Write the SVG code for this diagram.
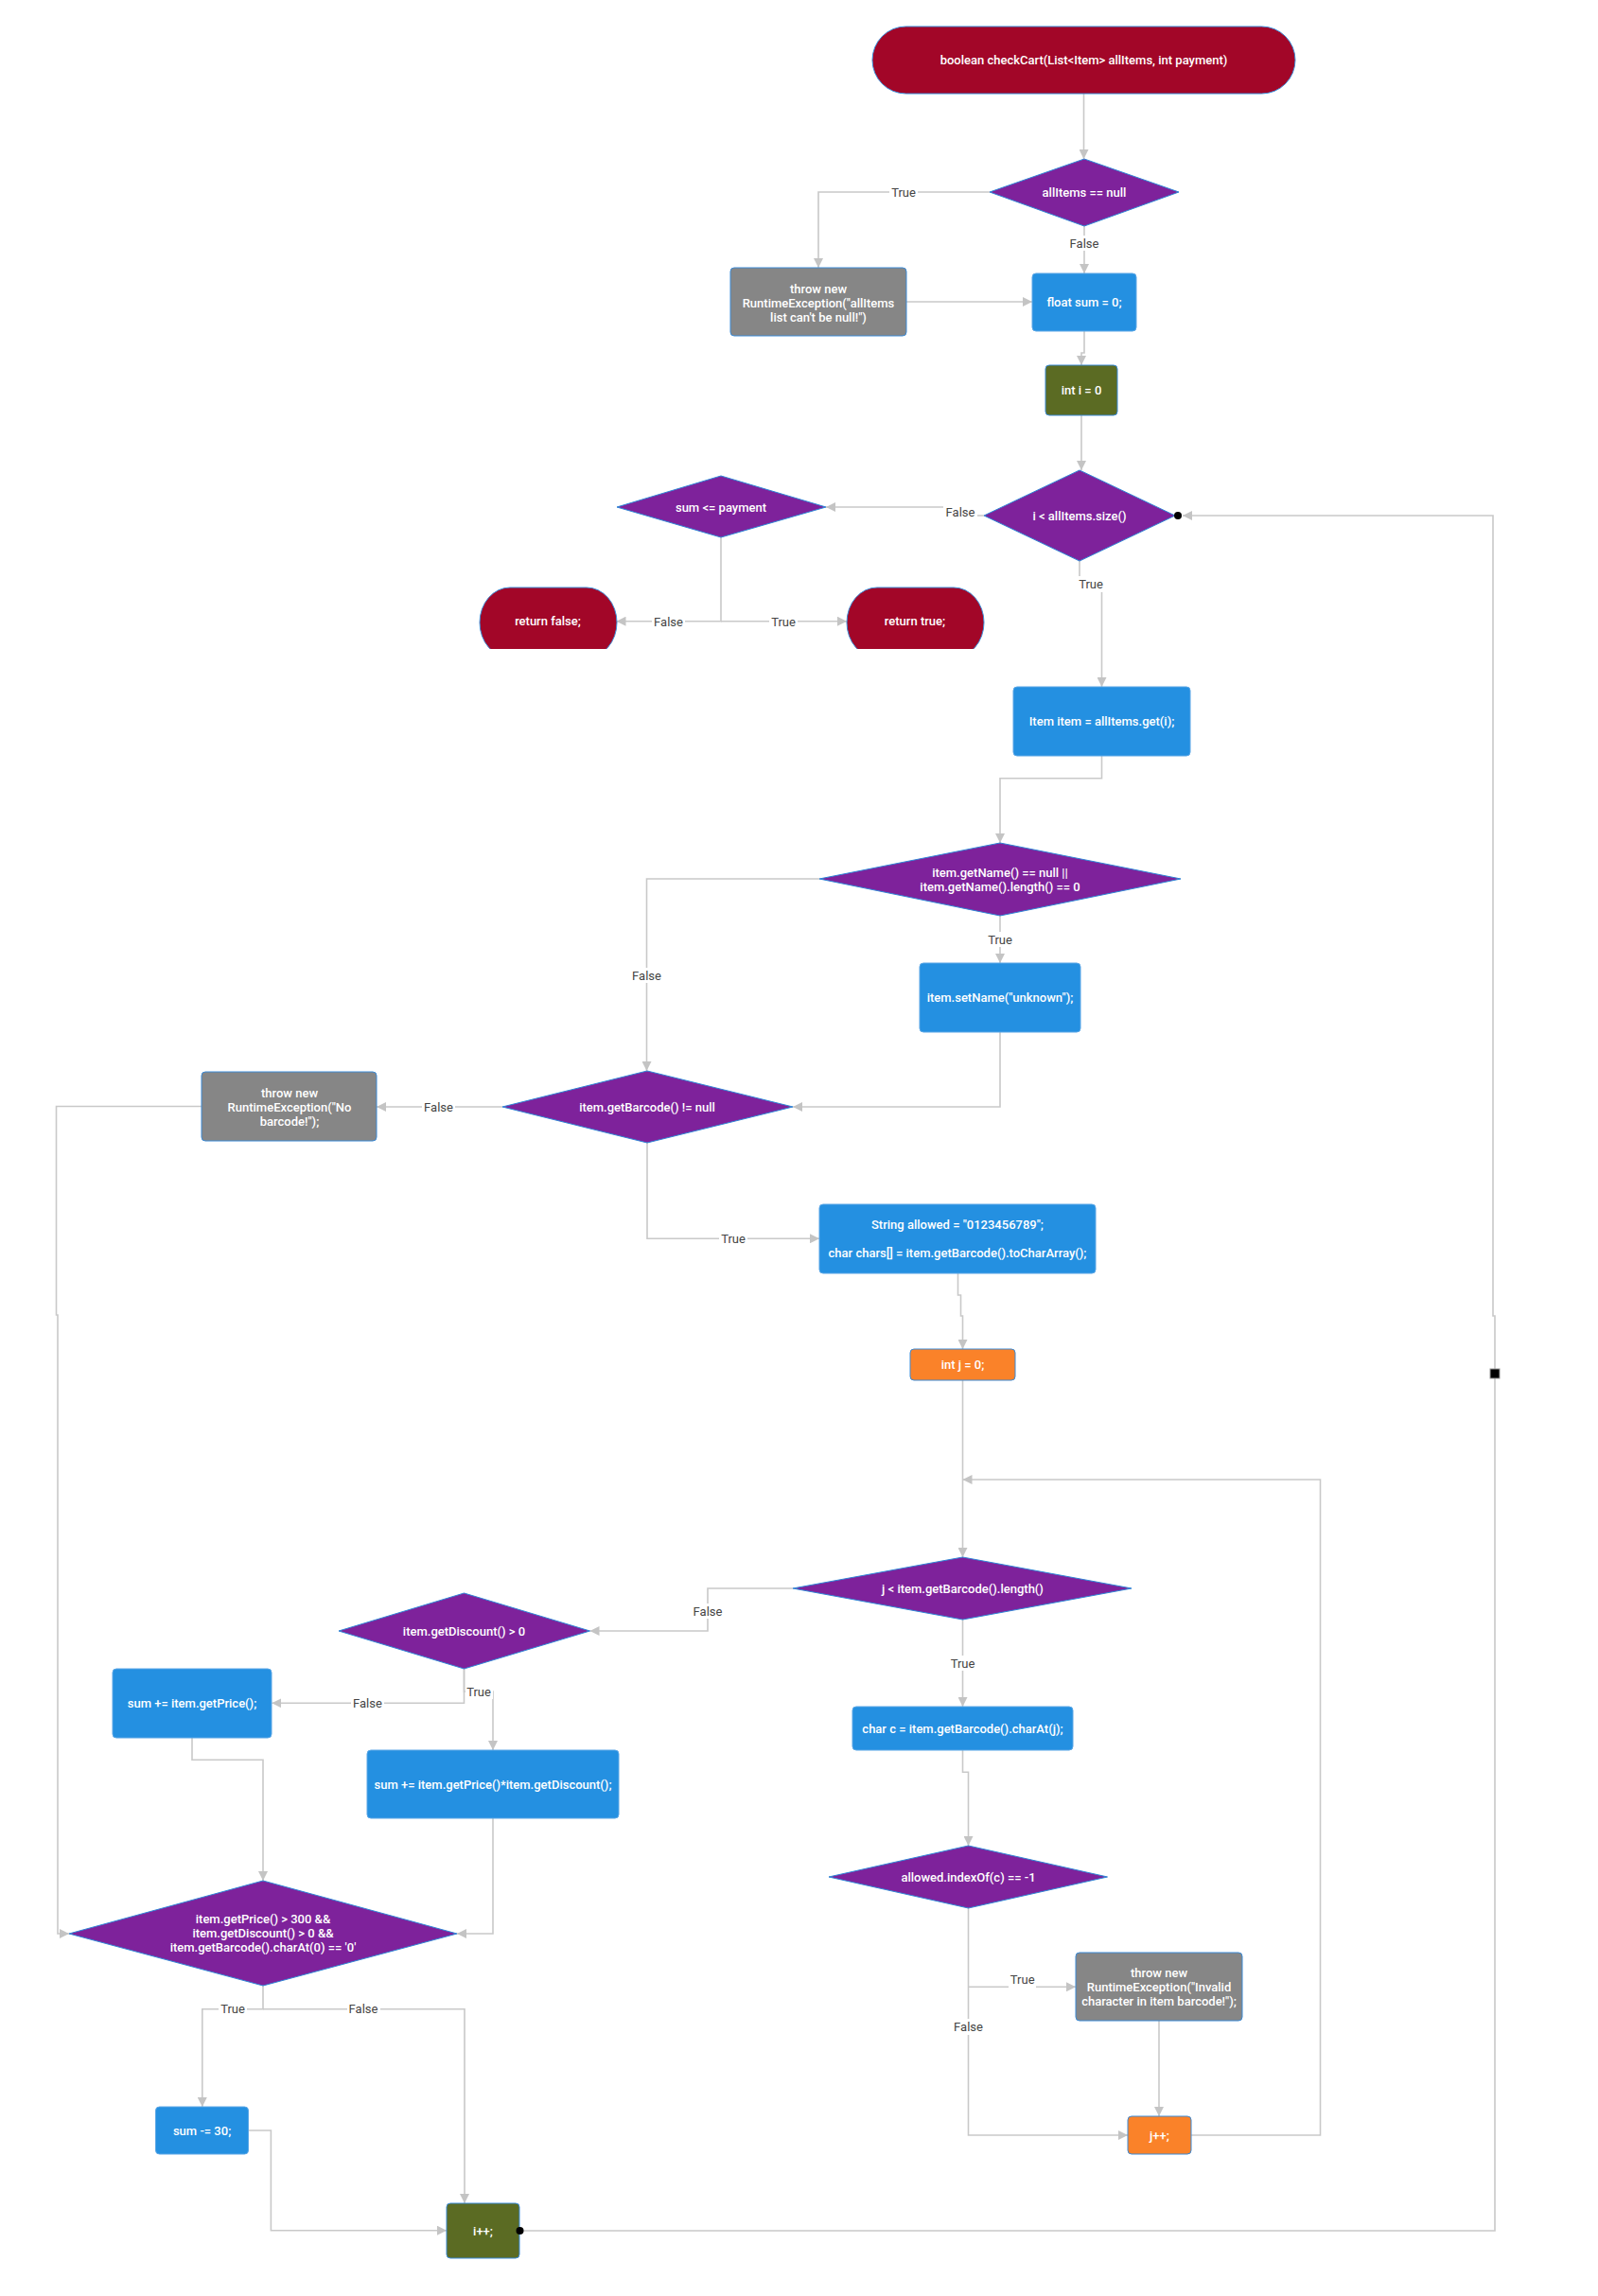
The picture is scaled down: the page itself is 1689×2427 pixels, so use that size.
<svg xmlns="http://www.w3.org/2000/svg" width="1689" height="2427" viewBox="0 0 1689 2427">
  <style>
    .conn { fill: none; stroke: #c9c9c9; stroke-width: 1.6; }
    .arr { marker-end: url(#arrow); }
    .lbl-bg { fill: #ffffff; }
    .lbl { font-family: Roboto, "Liberation Sans", Arial, sans-serif; font-size: 13px; fill: #444444; text-anchor: middle; dominant-baseline: central; }
    .txt { font-family: Roboto, "Liberation Sans", Arial, sans-serif; font-size: 13px; font-weight: 500; fill: #ffffff; text-anchor: middle; dominant-baseline: central; }
    .term { fill: #a20628; stroke: #3d8fd8; stroke-width: 1; }
    .dec { fill: #7e229b; stroke: #2f86d6; stroke-width: 1; }
    .proc { fill: #2490e1; stroke: #5aa6e6; stroke-width: 1; }
    .err { fill: #868686; stroke: #3a8ad6; stroke-width: 1; }
    .loop { fill: #5b6b23; stroke: #3a8ad6; stroke-width: 1; }
    .inc { fill: #fa8229; stroke: #3a8ad6; stroke-width: 1; }
  </style>
  <defs>
    <marker id="arrow" markerUnits="userSpaceOnUse" markerWidth="10" markerHeight="10" refX="10" refY="5" orient="auto">
      <path d="M0,0 L10,5 L0,10 z" fill="#c4c4c4"/>
    </marker>
    <clipPath id="cutBottom">
      <rect x="0" y="0" width="1689" height="686"/>
    </clipPath>
  </defs>

  <rect x="0" y="0" width="1689" height="2427" fill="#ffffff"/>

  <!-- connectors -->
  <g id="connectors">
    <path class="conn arr" d="M1145.5,99 V168"/>
    <path class="conn arr" d="M1046,203 H865 V283"/>
    <path class="conn arr" d="M1146,239 V289"/>
    <path class="conn arr" d="M958,319 H1091"/>
    <path class="conn arr" d="M1146,350 V373 H1143 V386"/>
    <path class="conn arr" d="M1143,439 V497"/>
    <path class="conn arr" d="M1040,545 H1027 V536 H873"/>
    <path class="conn arr" d="M762,568 V656.7 H651.5"/>
    <path class="conn arr" d="M762,656.7 H895"/>
    <path class="conn arr" d="M1141,593 V617 H1164.5 V726"/>
    <path class="conn arr" d="M1164.5,799 V822.7 H1057 V891"/>
    <path class="conn arr" d="M866,929 H683.5 V1132"/>
    <path class="conn arr" d="M1057,968 V1018"/>
    <path class="conn arr" d="M1057,1091 V1170 H838"/>
    <path class="conn arr" d="M531,1170 H398"/>
    <path class="conn arr" d="M213,1169.5 H59.5 V1390 H61 V2044 H73"/>
    <path class="conn arr" d="M684,1208 V1309.3 H866"/>
    <path class="conn arr" d="M1012.5,1346 V1369 H1015.5 V1391 H1017.5 V1426"/>
    <path class="conn arr" d="M1017.5,1459 V1646"/>
    <path class="conn arr" d="M1259,2257 H1395.5 V1564 H1017.5"/>
    <path class="conn arr" d="M838,1679 H748 V1724 H623.5"/>
    <path class="conn arr" d="M1017.5,1712 V1804"/>
    <path class="conn arr" d="M1017.5,1850 V1873.3 H1023.5 V1951"/>
    <path class="conn arr" d="M1023.5,2017 V2257 H1192"/>
    <path class="conn arr" d="M1023.5,2100.3 H1137"/>
    <path class="conn arr" d="M1225,2136 V2237"/>
    <path class="conn arr" d="M490.5,1764 V1800.3 H287.3"/>
    <path class="conn arr" d="M490.5,1764 V1788 H521 V1850"/>
    <path class="conn arr" d="M203,1837 V1860.3 H278 V1988"/>
    <path class="conn arr" d="M521,1922 V2044 H483"/>
    <path class="conn arr" d="M278,2099 V2123.7 H213.8 V2227"/>
    <path class="conn arr" d="M278,2123.7 H491 V2329"/>
    <path class="conn arr" d="M263,2252 H286.4 V2357.7 H472"/>
    <path class="conn arr" d="M549,2358 H1580 V1391 H1578 V545 H1250"/>
    <rect x="1575" y="1447" width="10" height="10" fill="#000000" stroke="#9a9a9a" stroke-width="1"/>

    <!-- branch labels -->
    <rect class="lbl-bg" x="940" y="195" width="30" height="16"/>
    <text class="lbl" x="955" y="203">True</text>
    <rect class="lbl-bg" x="1129" y="249" width="34" height="16"/>
    <text class="lbl" x="1146" y="257">False</text>
    <rect class="lbl-bg" x="997" y="532" width="36" height="17"/>
    <text class="lbl" x="1015" y="541">False</text>
    <rect class="lbl-bg" x="689" y="649" width="35" height="16"/>
    <text class="lbl" x="706.5" y="657">False</text>
    <rect class="lbl-bg" x="813" y="649" width="30" height="16"/>
    <text class="lbl" x="828" y="657">True</text>
    <rect class="lbl-bg" x="1138" y="609" width="30" height="17"/>
    <text class="lbl" x="1153" y="617.5">True</text>
    <rect class="lbl-bg" x="666" y="1023" width="35" height="16"/>
    <text class="lbl" x="683.5" y="1031">False</text>
    <rect class="lbl-bg" x="1042" y="985" width="30" height="16"/>
    <text class="lbl" x="1057" y="993.5">True</text>
    <rect class="lbl-bg" x="446" y="1162" width="35" height="16"/>
    <text class="lbl" x="463.5" y="1170">False</text>
    <rect class="lbl-bg" x="760" y="1301" width="30" height="16"/>
    <text class="lbl" x="775" y="1309.3">True</text>
    <rect class="lbl-bg" x="731" y="1695" width="35" height="16"/>
    <text class="lbl" x="748" y="1703">False</text>
    <rect class="lbl-bg" x="1002" y="1750" width="30" height="16"/>
    <text class="lbl" x="1017.5" y="1758.3">True</text>
    <rect class="lbl-bg" x="1006" y="2134" width="35" height="17"/>
    <text class="lbl" x="1023.5" y="2142.3">False</text>
    <rect class="lbl-bg" x="1066" y="2084" width="29" height="17.5"/>
    <text class="lbl" x="1080.7" y="2092.3">True</text>
    <rect class="lbl-bg" x="371" y="1792" width="35" height="16"/>
    <text class="lbl" x="388.4" y="1800">False</text>
    <rect class="lbl-bg" x="492" y="1780" width="29" height="16"/>
    <text class="lbl" x="506" y="1788.3">True</text>
    <rect class="lbl-bg" x="231" y="2116" width="30" height="16"/>
    <text class="lbl" x="246" y="2123.7">True</text>
    <rect class="lbl-bg" x="367" y="2116" width="35" height="16"/>
    <text class="lbl" x="384" y="2123.7">False</text>
  </g>

  <!-- nodes -->
  <g id="start">
    <rect class="term" x="922" y="28" width="447" height="71" rx="35.5"/>
    <text class="txt" x="1145.5" y="63.5">boolean checkCart(List&lt;Item&gt; allItems, int payment)</text>
  </g>
  <g id="check-null">
    <polygon class="dec" points="1146,168 1246,203 1146,239 1046,203"/>
    <text class="txt" x="1146" y="203">allItems == null</text>
  </g>
  <g id="throw-null">
    <rect class="err" x="772" y="283" width="186" height="72" rx="4"/>
    <text class="txt" x="865" y="305">throw new</text>
    <text class="txt" x="865" y="320">RuntimeException("allItems</text>
    <text class="txt" x="865" y="335">list can't be null!")</text>
  </g>
  <g id="init-sum">
    <rect class="proc" x="1091" y="289" width="110" height="61" rx="4"/>
    <text class="txt" x="1146" y="319.5">float sum = 0;</text>
  </g>
  <g id="init-i">
    <rect class="loop" x="1105" y="386" width="76" height="53" rx="4"/>
    <text class="txt" x="1143" y="412.5">int i = 0</text>
  </g>
  <g id="loop-i">
    <polygon class="dec" points="1141,497 1242,545 1141,593 1040,545"/>
    <text class="txt" x="1141" y="545">i &lt; allItems.size()</text>
    <circle cx="1245" cy="545" r="4" fill="#000000"/>
  </g>
  <g id="check-payment">
    <polygon class="dec" points="762,503 873,536 762,568 652,536"/>
    <text class="txt" x="762" y="536">sum &lt;= payment</text>
  </g>
  <g id="return-false" clip-path="url(#cutBottom)">
    <rect class="term" x="507" y="621" width="145" height="74" rx="32" ry="37"/>
    <text class="txt" x="579" y="656.7">return false;</text>
  </g>
  <g id="return-true" clip-path="url(#cutBottom)">
    <rect class="term" x="895" y="621" width="145" height="74" rx="32" ry="37"/>
    <text class="txt" x="967" y="656.7">return true;</text>
  </g>
  <g id="get-item">
    <rect class="proc" x="1071" y="726" width="187" height="73" rx="4"/>
    <text class="txt" x="1164.5" y="762.5">Item item = allItems.get(i);</text>
  </g>
  <g id="check-name">
    <polygon class="dec" points="1057,891 1248,929 1057,968 866,929"/>
    <text class="txt" x="1057" y="922">item.getName() == null ||</text>
    <text class="txt" x="1057" y="937">item.getName().length() == 0</text>
  </g>
  <g id="set-name">
    <rect class="proc" x="972" y="1018" width="170" height="73" rx="4"/>
    <text class="txt" x="1057" y="1054.5">item.setName("unknown");</text>
  </g>
  <g id="check-barcode">
    <polygon class="dec" points="684,1132 838,1170 684,1208 531,1170"/>
    <text class="txt" x="684" y="1170.5">item.getBarcode() != null</text>
  </g>
  <g id="throw-barcode">
    <rect class="err" x="213" y="1133" width="185" height="73" rx="4"/>
    <text class="txt" x="306" y="1155">throw new</text>
    <text class="txt" x="306" y="1170">RuntimeException("No</text>
    <text class="txt" x="306" y="1185">barcode!");</text>
  </g>
  <g id="init-chars">
    <rect class="proc" x="866" y="1273" width="292" height="73" rx="4"/>
    <text class="txt" x="1012" y="1294.3">String allowed = "0123456789";</text>
    <text class="txt" x="1012" y="1324.3">char chars[] = item.getBarcode().toCharArray();</text>
  </g>
  <g id="init-j">
    <rect class="inc" x="962" y="1426" width="111" height="33" rx="4"/>
    <text class="txt" x="1017.5" y="1442.5">int j = 0;</text>
  </g>
  <g id="loop-j">
    <polygon class="dec" points="1017.5,1646 1196,1679 1017.5,1712 838,1679"/>
    <text class="txt" x="1017.5" y="1679">j &lt; item.getBarcode().length()</text>
  </g>
  <g id="get-char">
    <rect class="proc" x="901" y="1804" width="233" height="46" rx="4"/>
    <text class="txt" x="1017.5" y="1827">char c = item.getBarcode().charAt(j);</text>
  </g>
  <g id="check-char">
    <polygon class="dec" points="1023.5,1951 1170.5,1984 1023.5,2017 876,1984"/>
    <text class="txt" x="1023.5" y="1984">allowed.indexOf(c) == -1</text>
  </g>
  <g id="throw-char">
    <rect class="err" x="1137" y="2064" width="176" height="72" rx="4"/>
    <text class="txt" x="1225" y="2085.7">throw new</text>
    <text class="txt" x="1225" y="2100.7">RuntimeException("Invalid</text>
    <text class="txt" x="1225" y="2115.7">character in item barcode!");</text>
  </g>
  <g id="inc-j">
    <rect class="inc" x="1192" y="2237" width="67" height="40" rx="4"/>
    <text class="txt" x="1225.5" y="2257">j++;</text>
  </g>
  <g id="check-discount">
    <polygon class="dec" points="490.5,1684 623.5,1724 490.5,1764 358,1724"/>
    <text class="txt" x="490.5" y="1724">item.getDiscount() &gt; 0</text>
  </g>
  <g id="add-price">
    <rect class="proc" x="119" y="1764" width="168" height="73" rx="4"/>
    <text class="txt" x="203" y="1800.5">sum += item.getPrice();</text>
  </g>
  <g id="add-discounted">
    <rect class="proc" x="388" y="1850" width="266" height="72" rx="4"/>
    <text class="txt" x="521" y="1886">sum += item.getPrice()*item.getDiscount();</text>
  </g>
  <g id="check-bonus">
    <polygon class="dec" points="278,1988 483,2044 278,2099 73,2044"/>
    <text class="txt" x="278" y="2028.3">item.getPrice() &gt; 300 &amp;&amp;</text>
    <text class="txt" x="278" y="2043.3">item.getDiscount() &gt; 0 &amp;&amp;</text>
    <text class="txt" x="278" y="2058.3">item.getBarcode().charAt(0) == '0'</text>
  </g>
  <g id="sub-bonus">
    <rect class="proc" x="164.5" y="2227" width="98" height="50" rx="4"/>
    <text class="txt" x="213.6" y="2252">sum -= 30;</text>
  </g>
  <g id="inc-i">
    <rect class="loop" x="472" y="2329" width="77" height="58" rx="4"/>
    <text class="txt" x="510.5" y="2358">i++;</text>
    <circle cx="549.5" cy="2358" r="4" fill="#000000"/>
  </g>
</svg>
